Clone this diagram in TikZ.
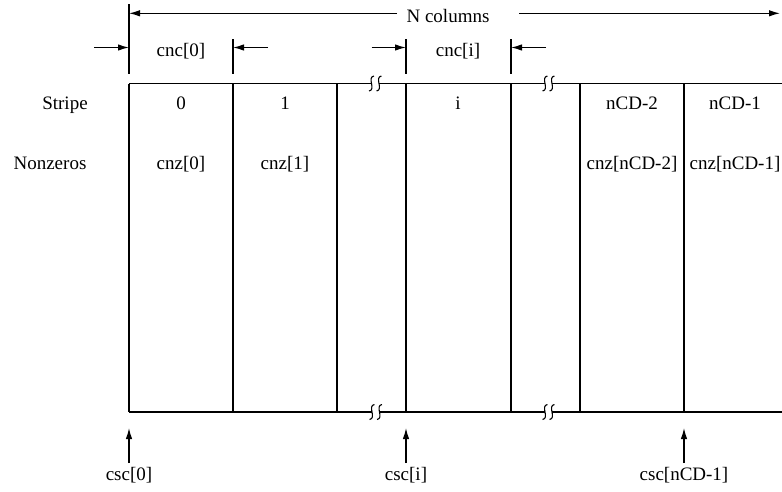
\documentclass[tikz,border=0pt]{standalone}
\usepackage{fontspec}
\setmainfont{Liberation Serif}
\usetikzlibrary{arrows.meta}

\begin{document}
\begin{tikzpicture}[x=1pt,y=-1pt,line width=1.2pt,
  lbl/.style={inner sep=0pt,anchor=base,font=\fontsize{19}{22}\selectfont},
  tipped/.style={-{Latex[length=11pt,width=6.5pt]}},
  squig/.pic={\draw[line width=1.1pt] (2.4,-7.5) .. controls (-5,-6) and (5,6) .. (-2.4,7.5);}]
\useasboundingbox (0,0) rectangle (782,491);

% column boundaries, top and bottom of the stripe frame
\foreach \n/\x in {0/129,1/233,2/337,3/406,4/511,5/580,6/684}{
  \coordinate (t\n) at (\x,83.5);
  \coordinate (b\n) at (\x,412);
}
\coordinate (tend) at (782,83.5);
\coordinate (bend) at (782,412);

% break points on the frame lines
\coordinate (tA1) at (371.5,83.5); \coordinate (tA2) at (379,83.5);
\coordinate (tB1) at (545,83.5);   \coordinate (tB2) at (552,83.5);
\coordinate (bA1) at (372,412);    \coordinate (bA2) at (379.5,412);
\coordinate (bB1) at (545,412);    \coordinate (bB2) at (552,412);

% frame lines, interrupted at the breaks
\draw (t0) -- (tA1) (tA2) -- (tB1) (tB2) -- (tend);
\draw (b0) -- (bA1) (bA2) -- (bB1) (bB2) -- (bend);
\foreach \c in {tA1,tA2,tB1,tB2,bA1,bA2,bB1,bB2}
  \pic at (\c) {squig};

% column separators
\foreach \n in {0,...,6} \draw (t\n) -- (b\n);

% overall width dimension
\coordinate (ntop) at (129,4);
\coordinate (nbot) at (129,74);
\coordinate (nl) at (129,13.3);
\coordinate (nr) at (780,13.3);
\node[lbl] (ncols) at (448,22) {N columns};
\coordinate (nlgap) at (397,13.3);
\coordinate (nrgap) at (519,13.3);
\draw (ntop) -- (nbot);
\draw[tipped] (nlgap) -- (nl);
\draw[tipped] (nrgap) -- (nr);

% cnc[0] dimension
\coordinate (k0a) at (94,47.5);  \coordinate (k0b) at (129,47.5);
\coordinate (k1a) at (268,47.5); \coordinate (k1b) at (233,47.5);
\coordinate (k1top) at (233,39); \coordinate (k1bot) at (233,74);
\draw[tipped] (k0a) -- (k0b);
\draw[tipped] (k1a) -- (k1b);
\draw (k1top) -- (k1bot);
\node[lbl] (cnc0) at (181,56) {cnc[0]};

% cnc[i] dimension
\coordinate (kia) at (371.5,47.5); \coordinate (kib) at (406,47.5);
\coordinate (kja) at (546,47.5);   \coordinate (kjb) at (511,47.5);
\coordinate (kitop) at (406,39); \coordinate (kibot) at (406,74);
\coordinate (kjtop) at (511,39); \coordinate (kjbot) at (511,74);
\draw[tipped] (kia) -- (kib);
\draw[tipped] (kja) -- (kjb);
\draw (kitop) -- (kibot);
\draw (kjtop) -- (kjbot);
\node[lbl] (cnci) at (458,56) {cnc[i]};

% row labels
\node[lbl] (stripe) at (65,109) {Stripe};
\node[lbl] (nonz) at (50,169) {Nonzeros};
\node[lbl] (s0) at (181,109) {0};
\node[lbl] (s1) at (285,109) {1};
\node[lbl] (si) at (458,109) {i};
\node[lbl] (s2) at (632,109) {nCD-2};
\node[lbl] (s3) at (735,109) {nCD-1};
\node[lbl] (z0) at (181,169) {cnz[0]};
\node[lbl] (z1) at (285,169) {cnz[1]};
\node[lbl] (z2) at (632,169) {cnz[nCD-2]};
\node[lbl] (z3) at (735,169) {cnz[nCD-1]};

% column start pointers
\foreach \n/\x/\t in {a/129/csc[0],b/406/csc[i],c/684/csc[nCD-1]}{
  \coordinate (p\n) at (\x,463);
  \coordinate (q\n) at (\x,428);
  \draw[tipped] (p\n) -- (q\n);
  \node[lbl] (l\n) at (\x,480) {\t};
}
\end{tikzpicture}
\end{document}
